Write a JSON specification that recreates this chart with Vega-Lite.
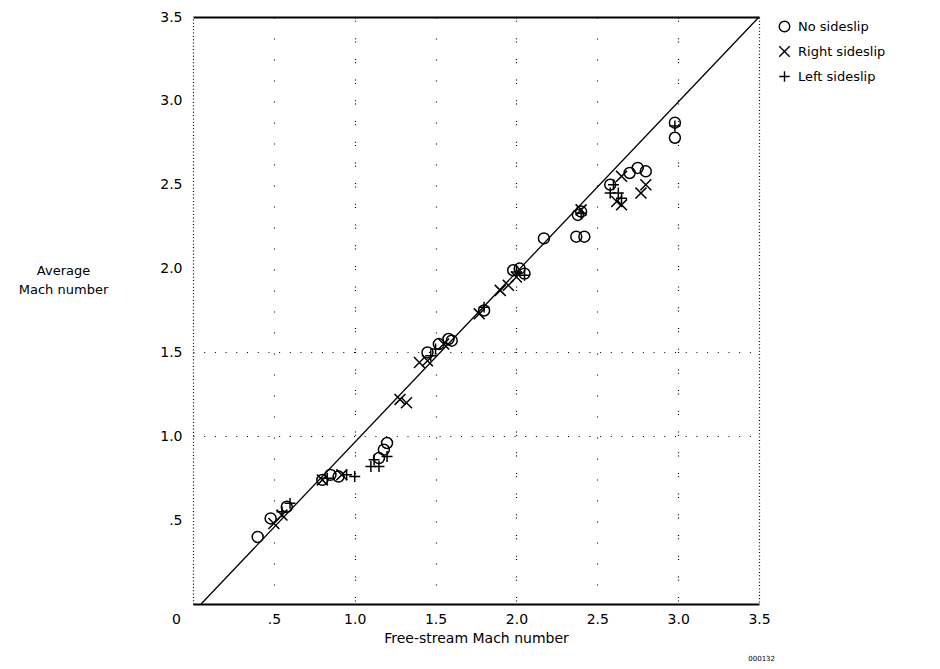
{
  "$schema": "https://vega.github.io/schema/vega-lite/v6.json",
  "width": 566,
  "height": 587,
  "autosize": {"type": "none"},
  "padding": {"left": 193, "top": 17, "right": 181, "bottom": 65},
  "background": "white",
  "title": {"text": "000132", "orient": "bottom", "anchor": "end", "frame": "group", "fontSize": 7, "fontWeight": "normal", "font": "DejaVu Sans", "color": "black", "offset": 10, "dx": 16},
  "config": {
    "view": {"stroke": null},
    "font": "DejaVu Sans",
    "axis": {"labelFont": "DejaVu Sans", "titleFont": "DejaVu Sans", "labelColor": "black", "titleColor": "black", "titleFontWeight": "normal"},
    "legend": {"labelFont": "DejaVu Sans", "labelColor": "black"}
  },
  "encoding": {
    "x": {
      "field": "x", "type": "quantitative",
      "scale": {"domain": [0, 3.5], "nice": false},
      "axis": {
        "values": [0, 0.5, 1, 1.5, 2, 2.5, 3, 3.5],
        "labelExpr": "datum.value == 0 ? '0' : datum.value == 0.5 ? '.5' : format(datum.value, '.1f')",
        "labelOffset": {"condition": {"test": "datum.value == 0", "value": -17}, "value": 0},
        "labelFlush": false,
        "ticks": false,
        "domainColor": "black", "domainWidth": 2,
        "labelFontSize": 14, "labelPadding": 8,
        "title": "Free-stream Mach number", "titleFontSize": 14, "titlePadding": 5,
        "grid": true, "gridColor": "black", "gridWidth": 1.2,
        "gridDash": {"condition": [{"test": "datum.value == 3.5", "value": [1, 2.3]}, {"test": "datum.value % 1 == 0", "value": [1, 2.3, 1, 16.4]}], "value": [1, 20]},
        "gridOpacity": {"condition": {"test": "datum.value == 0", "value": 0}, "value": 1}
      }
    },
    "y": {
      "field": "y", "type": "quantitative",
      "scale": {"domain": [0, 3.5], "nice": false},
      "axis": {
        "values": [0.5, 1, 1.5, 2, 2.5, 3, 3.5],
        "labelExpr": "datum.value == 0.5 ? '.5' : format(datum.value, '.1f')",
        "ticks": false,
        "domainColor": "black", "domainWidth": 1.2, "domainDash": [1, 2.3],
        "labelFontSize": 14, "labelPadding": 11,
        "title": ["Average", "Mach number"], "titleFontSize": 13, "titleAngle": 0,
        "titleAlign": "center", "titleBaseline": "middle", "titleLineHeight": 19,
        "titleX": -130, "titleY": 253,
        "grid": true, "gridColor": "black",
        "gridWidth": {"condition": {"test": "datum.value == 3.5", "value": 2}, "value": 1.2},
        "gridDash": {"condition": {"test": "datum.value == 3.5", "value": [1, 0]}, "value": [1, 9.7]},
        "gridOpacity": {"condition": {"test": "datum.value == 1 || datum.value == 1.5 || datum.value == 3.5", "value": 1}, "value": 0}
      }
    }
  },
  "layer": [
    {
      "data": {"values": [{"x": 0.05, "y": 0}, {"x": 3.5, "y": 3.5}]},
      "mark": {"type": "line", "color": "black", "strokeWidth": 1.3}
    },
    {
      "data": {"values": [
        {"series": "No sideslip", "x": 0.4, "y": 0.4},
        {"series": "No sideslip", "x": 0.48, "y": 0.51},
        {"series": "No sideslip", "x": 0.58, "y": 0.58},
        {"series": "No sideslip", "x": 0.8, "y": 0.74},
        {"series": "No sideslip", "x": 0.85, "y": 0.77},
        {"series": "No sideslip", "x": 0.9, "y": 0.76},
        {"series": "No sideslip", "x": 1.15, "y": 0.87},
        {"series": "No sideslip", "x": 1.18, "y": 0.92},
        {"series": "No sideslip", "x": 1.2, "y": 0.96},
        {"series": "No sideslip", "x": 1.45, "y": 1.5},
        {"series": "No sideslip", "x": 1.52, "y": 1.55},
        {"series": "No sideslip", "x": 1.58, "y": 1.58},
        {"series": "No sideslip", "x": 1.6, "y": 1.57},
        {"series": "No sideslip", "x": 1.8, "y": 1.75},
        {"series": "No sideslip", "x": 1.98, "y": 1.99},
        {"series": "No sideslip", "x": 2.02, "y": 2.0},
        {"series": "No sideslip", "x": 2.05, "y": 1.97},
        {"series": "No sideslip", "x": 2.17, "y": 2.18},
        {"series": "No sideslip", "x": 2.37, "y": 2.19},
        {"series": "No sideslip", "x": 2.42, "y": 2.19},
        {"series": "No sideslip", "x": 2.38, "y": 2.32},
        {"series": "No sideslip", "x": 2.4, "y": 2.34},
        {"series": "No sideslip", "x": 2.58, "y": 2.5},
        {"series": "No sideslip", "x": 2.7, "y": 2.57},
        {"series": "No sideslip", "x": 2.75, "y": 2.6},
        {"series": "No sideslip", "x": 2.8, "y": 2.58},
        {"series": "No sideslip", "x": 2.98, "y": 2.87},
        {"series": "No sideslip", "x": 2.98, "y": 2.78},
        {"series": "Right sideslip", "x": 0.5, "y": 0.48},
        {"series": "Right sideslip", "x": 0.55, "y": 0.53},
        {"series": "Right sideslip", "x": 0.8, "y": 0.74},
        {"series": "Right sideslip", "x": 0.92, "y": 0.77},
        {"series": "Right sideslip", "x": 1.28, "y": 1.22},
        {"series": "Right sideslip", "x": 1.32, "y": 1.2},
        {"series": "Right sideslip", "x": 1.4, "y": 1.44},
        {"series": "Right sideslip", "x": 1.45, "y": 1.45},
        {"series": "Right sideslip", "x": 1.55, "y": 1.55},
        {"series": "Right sideslip", "x": 1.77, "y": 1.73},
        {"series": "Right sideslip", "x": 1.9, "y": 1.87},
        {"series": "Right sideslip", "x": 1.95, "y": 1.9},
        {"series": "Right sideslip", "x": 2.0, "y": 1.95},
        {"series": "Right sideslip", "x": 2.4, "y": 2.35},
        {"series": "Right sideslip", "x": 2.62, "y": 2.4},
        {"series": "Right sideslip", "x": 2.65, "y": 2.38},
        {"series": "Right sideslip", "x": 2.65, "y": 2.55},
        {"series": "Right sideslip", "x": 2.77, "y": 2.45},
        {"series": "Right sideslip", "x": 2.8, "y": 2.5},
        {"series": "Left sideslip", "x": 0.55, "y": 0.55},
        {"series": "Left sideslip", "x": 0.6, "y": 0.6},
        {"series": "Left sideslip", "x": 0.83, "y": 0.75},
        {"series": "Left sideslip", "x": 0.95, "y": 0.77},
        {"series": "Left sideslip", "x": 1.0, "y": 0.76},
        {"series": "Left sideslip", "x": 1.1, "y": 0.82},
        {"series": "Left sideslip", "x": 1.15, "y": 0.82},
        {"series": "Left sideslip", "x": 1.12, "y": 0.86},
        {"series": "Left sideslip", "x": 1.2, "y": 0.88},
        {"series": "Left sideslip", "x": 1.47, "y": 1.48},
        {"series": "Left sideslip", "x": 1.5, "y": 1.52},
        {"series": "Left sideslip", "x": 1.8, "y": 1.77},
        {"series": "Left sideslip", "x": 2.0, "y": 1.98},
        {"series": "Left sideslip", "x": 2.05, "y": 1.96},
        {"series": "Left sideslip", "x": 2.4, "y": 2.33},
        {"series": "Left sideslip", "x": 2.58, "y": 2.45},
        {"series": "Left sideslip", "x": 2.63, "y": 2.45},
        {"series": "Left sideslip", "x": 2.6, "y": 2.5},
        {"series": "Left sideslip", "x": 2.65, "y": 2.42},
        {"series": "Left sideslip", "x": 2.98, "y": 2.85}
      ]},
      "mark": {"type": "point", "filled": false, "color": "black", "strokeWidth": 1.5, "size": 120, "opacity": 1},
      "encoding": {
        "shape": {
          "field": "series", "type": "nominal",
          "scale": {"domain": ["No sideslip", "Right sideslip", "Left sideslip"], "range": ["circle", "M-1,-1L1,1M-1,1L1,-1", "M-1,0L1,0M0,-1L0,1"]},
          "legend": {"title": null, "orient": "none", "legendX": 585, "legendY": 3, "labelFontSize": 13, "symbolSize": 110, "symbolStrokeColor": "black", "symbolStrokeWidth": 1.4, "symbolFillColor": "transparent", "rowPadding": 8, "padding": 0, "labelOffset": 7}
        }
      }
    }
  ]
}
